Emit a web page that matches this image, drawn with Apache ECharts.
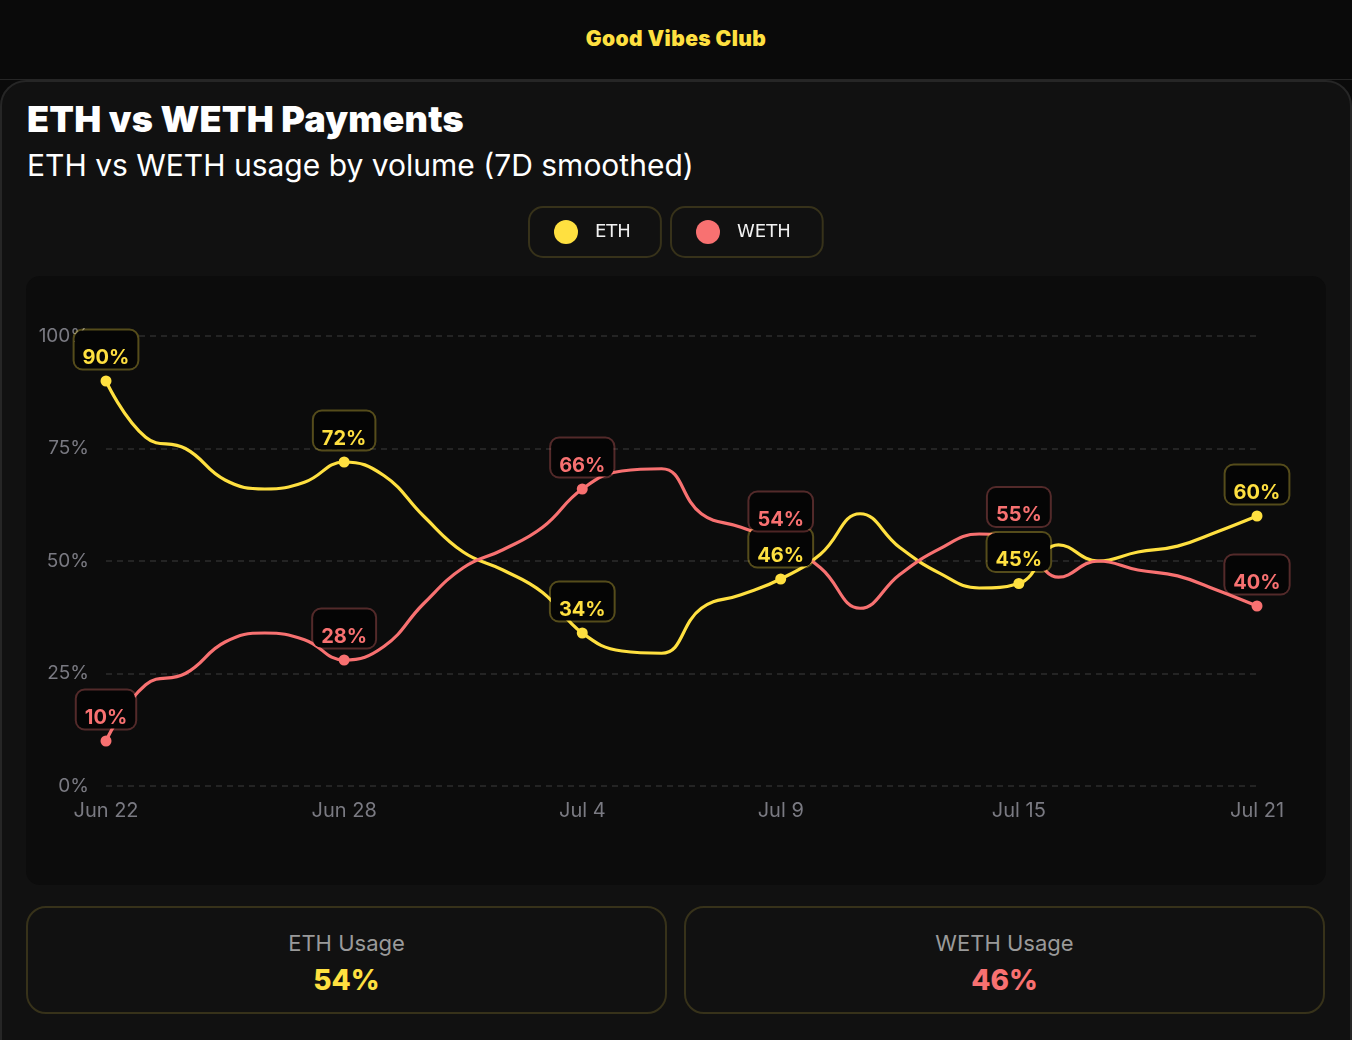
<!DOCTYPE html>
<html>
<head>
<meta charset="utf-8">
<script src="https://cdn.jsdelivr.net/npm/echarts@6/dist/echarts.min.js"></script>
<style>
    body {
        margin: 0;
        width: 1352px;
        height: 1040px;
        overflow: hidden;
        background: #0a0a0a;
        font-family: Inter, "Noto Sans", sans-serif;
        position: relative;
    }
    .header {
        position: absolute;
        left: 0; top: 0;
        width: 1352px; height: 79px;
        border-bottom: 1px solid #262626;
        text-align: center;
        line-height: 78px;
        color: #ffe040;
        font-weight: 900;
        font-size: 21px;
        letter-spacing: 0.4px;
    }
    .card {
        position: absolute;
        left: 0; top: 80px;
        width: 1348px; height: 990px;
        background: #111111;
        border: 2px solid #262626;
        border-radius: 26px;
    }
    .title {
        position: absolute;
        left: 27px; top: 99px;
        color: #fff;
        font-weight: 900;
        font-size: 36px;
        line-height: 40px;
        letter-spacing: 0.2px;
    }
    .subtitle {
        position: absolute;
        left: 27px; top: 147px;
        color: #fff;
        font-size: 30px;
        line-height: 36px;
    }
    .panel {
        position: absolute;
        left: 26px; top: 276px;
        width: 1300px; height: 609px;
        background: #0c0c0c;
        border-radius: 14px;
    }
    #myChart {
        position: absolute;
        left: 26px; top: 196px;
        width: 1300px; height: 690px;
    }
    .stat {
        position: absolute;
        top: 906px;
        width: 637px; height: 104px;
        border: 2px solid #37321a;
        border-radius: 20px;
        background: #111111;
        text-align: center;
    }
    .stat .lbl {
        margin-top: 21px;
        color: #9a9a9a;
        font-size: 22px;
        line-height: 28px;
    }
    .stat .val {
        margin-top: 5px;
        font-size: 28px;
        font-weight: 800;
        line-height: 36px;
    }
</style>
</head>
<body>
<div class="header">Good Vibes Club</div>
<div class="card"></div>
<div class="title">ETH vs WETH Payments</div>
<div class="subtitle">ETH vs WETH usage by volume (7D smoothed)</div>
<div class="panel"></div>
<div id="myChart"></div>
<div class="stat" style="left:26px"><div class="lbl">ETH Usage</div><div class="val" style="color:#ffe040">54%</div></div>
<div class="stat" style="left:684px"><div class="lbl">WETH Usage</div><div class="val" style="color:#f87171">46%</div></div>

<script>
// 设置数据
let days = ['Jun 22', 'Jun 23', 'Jun 24', 'Jun 25', 'Jun 26', 'Jun 27', 'Jun 28', 'Jun 29', 'Jun 30',
    'Jul 1', 'Jul 2', 'Jul 3', 'Jul 4', 'Jul 5', 'Jul 6', 'Jul 7', 'Jul 8', 'Jul 9', 'Jul 10',
    'Jul 11', 'Jul 12', 'Jul 13', 'Jul 14', 'Jul 15', 'Jul 16', 'Jul 17', 'Jul 18', 'Jul 19', 'Jul 20', 'Jul 21']
let ethShare = [90, 77.5, 75, 68, 66, 67.5, 72, 69, 60, 52, 48, 43, 34, 30, 29.5,
    39.5, 42.5, 46, 51.5, 60.5, 53, 47.3, 44, 45, 53.6, 50, 52, 53.3, 56.5, 60]
let wethShare = [10, 22.5, 25, 32, 34, 32.5, 28, 31, 40.5, 48.5, 52.5, 57.5, 66, 70, 70.5,
    60.5, 57.5, 54, 48.5, 39.5, 47, 52.7, 56, 55, 46.4, 50, 48, 46.7, 43.5, 40]
let tickLabels = ['Jun 22', 'Jun 28', 'Jul 4', 'Jul 9', 'Jul 15', 'Jul 21']
let yTicks = [0, 25, 50, 75, 100]

const YELLOW = '#ffe040'
const RED = '#f87171'

// only the tick days get a dot and a tag
function buildData(values, color, border) {
    return values.map((v, i) => {
        if (!tickLabels.includes(days[i])) {
            return { value: v, symbol: 'none' }
        }
        return {
            value: v,
            symbol: 'circle',
            symbolSize: 11,
            label: {
                show: true,
                position: 'top',
                distance: 7,
                formatter: Math.round(v) + '%',
                color: color,
                fontFamily: 'Inter',
                fontWeight: 'bold',
                fontSize: 20,
                lineHeight: 20,
                backgroundColor: '#050505',
                borderColor: border,
                borderWidth: 2,
                borderRadius: 8,
                padding: [17, 8, 1, 8]
            }
        }
    })
}

let myChart = echarts.init(document.getElementById('myChart'))

let legendBase = {
    top: 11,
    orient: 'horizontal',
    icon: 'circle',
    itemWidth: 24,
    itemHeight: 24,
    padding: [13, 30, 13, 25],
    backgroundColor: '#111111',
    borderColor: '#37321a',
    borderWidth: 2,
    borderRadius: 14,
    textStyle: {
        color: '#f2f2f2',
        fontFamily: 'DejaVu Sans',
        fontSize: 18,
        padding: [0, 0, 0, 12]
    }
}

let option = {
    backgroundColor: 'transparent',
    animation: false,
    legend: [
        Object.assign({}, legendBase, { left: 503, data: ['ETH'] }),
        Object.assign({}, legendBase, { left: 645, padding: [13, 32, 13, 25], data: ['WETH'] })
    ],
    grid: {
        left: 80,
        right: 69,
        top: 140,
        bottom: 100,
        outerBoundsMode: 'none'
    },
    xAxis: {
        type: 'category',
        data: days,
        boundaryGap: false,
        axisLine: { show: false },
        axisTick: { show: false },
        axisLabel: {
            interval: (idx, val) => tickLabels.includes(val),
            color: '#7a7a82',
            fontFamily: 'Inter',
            fontSize: 20,
            margin: 15
        },
        splitLine: { show: false }
    },
    yAxis: {
        type: 'value',
        min: yTicks[0],
        max: yTicks[yTicks.length - 1],
        interval: 25,
        axisLine: { show: false },
        axisTick: { show: false },
        axisLabel: {
            formatter: '{value}%',
            color: '#7a7a82',
            fontFamily: 'Inter',
            fontSize: 19,
            margin: 17
        },
        splitLine: {
            lineStyle: {
                color: '#2c2c2c',
                type: [6, 5],
                width: 1.5
            }
        }
    },
    series: [
        {
            name: 'ETH',
            type: 'line',
            smooth: 0.45,
            showAllSymbol: true,
            data: buildData(ethShare, YELLOW, 'rgba(255,224,64,0.3)'),
            lineStyle: { color: YELLOW, width: 3.2 },
            itemStyle: { color: YELLOW }
        },
        {
            name: 'WETH',
            type: 'line',
            smooth: 0.45,
            showAllSymbol: true,
            data: buildData(wethShare, RED, 'rgba(248,113,113,0.3)'),
            lineStyle: { color: RED, width: 3.2 },
            itemStyle: { color: RED }
        }
    ]
}
myChart.setOption(option)

window.addEventListener('resize', () => {
    myChart.resize()
})
</script>
</body>
</html>
